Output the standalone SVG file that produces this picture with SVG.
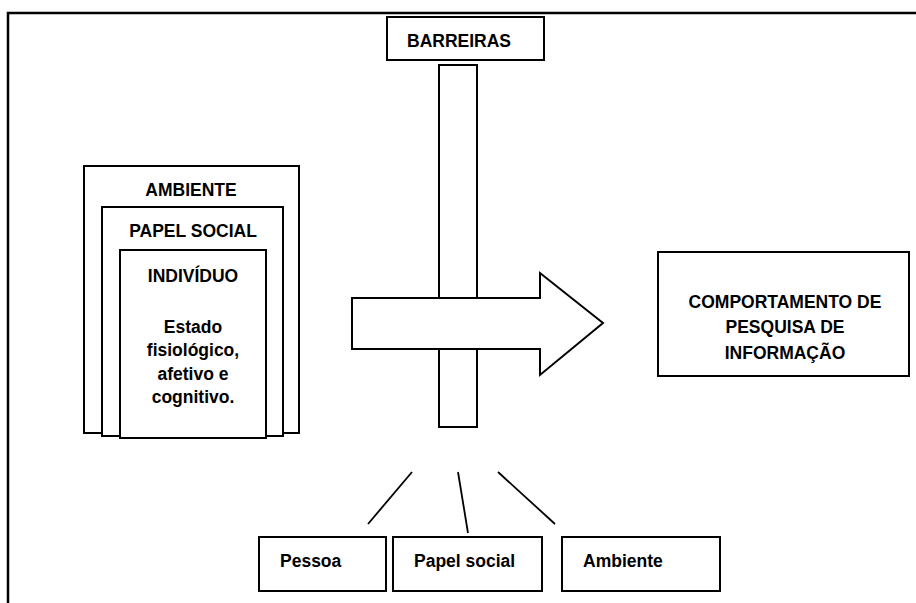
<svg xmlns="http://www.w3.org/2000/svg" width="916" height="603" viewBox="0 0 916 603">
<style>
  .box { fill: #fff; stroke: #000; stroke-width: 2; }
  .frame { fill: none; stroke: #000; stroke-width: 2.5; }
  .conn { stroke: #000; stroke-width: 1.8; fill: none; }
  text { font-family: "Liberation Sans", Arial, sans-serif; font-weight: bold; font-size: 17.5px; fill: #000; }
  .c { text-anchor: middle; }
</style>
<rect width="916" height="603" fill="#fff"/>
<path class="frame" d="M8 603 V13 H916"/>

<g id="contexto">
  <g id="ambiente-ctx">
    <rect class="box" x="84" y="166" width="215" height="267"/>
    <text class="c" x="191" y="196">AMBIENTE</text>
  </g>
  <g id="papel-social-ctx">
    <rect class="box" x="102" y="207" width="181" height="229"/>
    <text class="c" x="193" y="237">PAPEL SOCIAL</text>
  </g>
  <g id="individuo">
    <rect class="box" x="120" y="250" width="146" height="188"/>
    <text class="c" x="193" y="282">INDIVÍDUO</text>
    <text class="c" x="193" y="333">Estado</text>
    <text class="c" x="193" y="356">fisiológico,</text>
    <text class="c" x="193" y="380">afetivo e</text>
    <text class="c" x="193" y="403">cognitivo.</text>
  </g>
</g>

<g id="barreiras">
  <rect class="box" x="387" y="17" width="157" height="43"/>
  <text x="407" y="47">BARREIRAS</text>
</g>

<g id="barra">
  <rect class="box" x="439" y="65" width="38" height="362"/>
</g>

<g id="seta">
  <path class="box" d="M352 298 H540 V273 L603 323 L540 375 V349 H352 Z"/>
</g>

<g id="comportamento">
  <rect class="box" x="658" y="252" width="251" height="124"/>
  <text class="c" x="785" y="308">COMPORTAMENTO DE</text>
  <text class="c" x="785" y="333">PESQUISA DE</text>
  <text class="c" x="785" y="359">INFORMAÇÃO</text>
</g>

<g id="pessoa">
  <rect class="box" x="259" y="537" width="127" height="54"/>
  <text x="280" y="567">Pessoa</text>
</g>
<g id="papel-social">
  <rect class="box" x="393" y="537" width="149" height="54"/>
  <text x="414" y="567">Papel social</text>
</g>
<g id="ambiente">
  <rect class="box" x="562" y="537" width="158" height="54"/>
  <text x="583" y="567">Ambiente</text>
</g>

<g id="connectors">
  <line class="conn" x1="412" y1="472" x2="368" y2="524"/>
  <line class="conn" x1="458" y1="472" x2="468" y2="533"/>
  <line class="conn" x1="498" y1="472" x2="555" y2="524"/>
</g>
</svg>
